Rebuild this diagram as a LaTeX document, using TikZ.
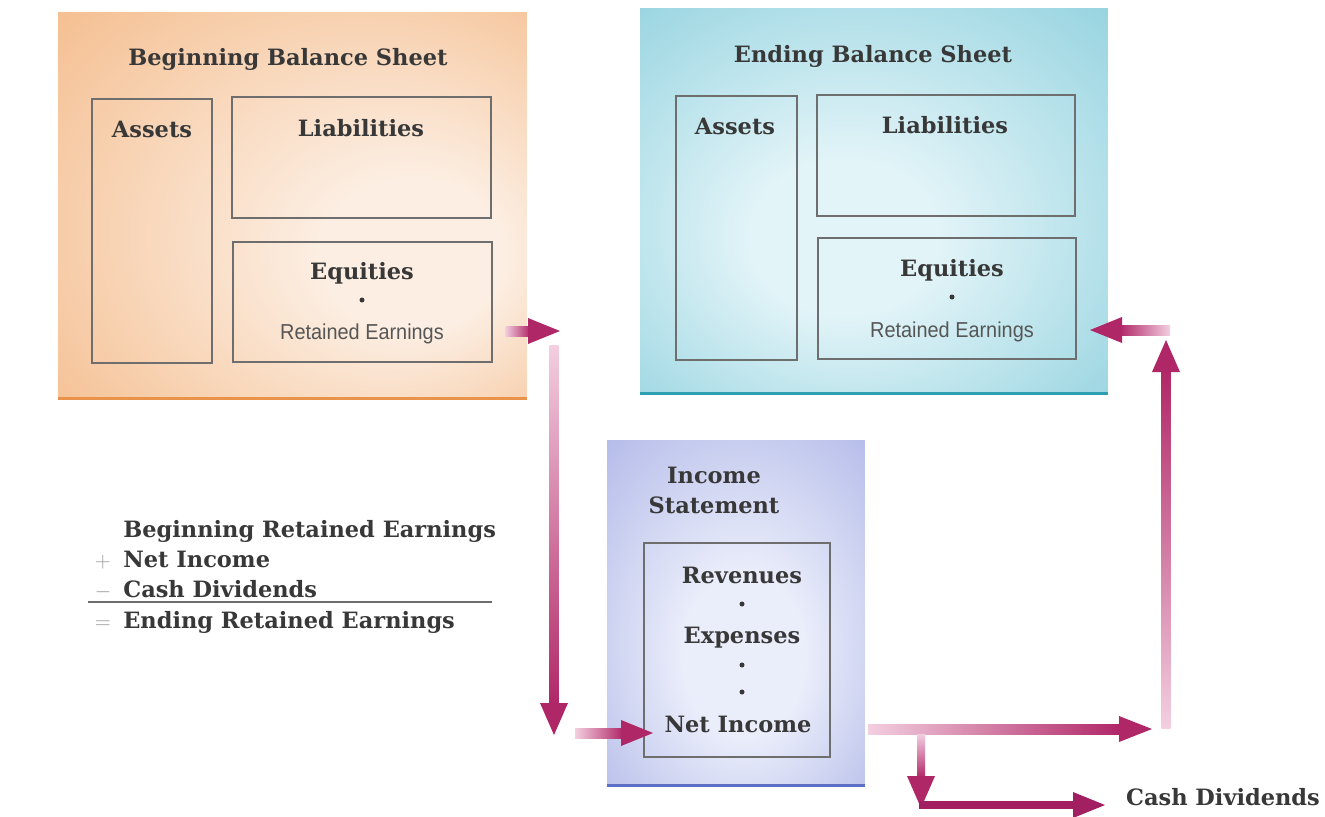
\documentclass[tikz,border=0pt]{standalone}
\usepackage{fontspec}
\setmainfont{DejaVu Serif}
\newfontfamily\condsans[FakeStretch=0.92]{Liberation Sans}
\usetikzlibrary{calc}

\definecolor{ink}{HTML}{383838}
\definecolor{sign}{HTML}{9A9A9A}
\definecolor{frame}{HTML}{6E6E6E}
\definecolor{orOut}{HTML}{F2AE74}
\definecolor{orIn}{HTML}{FCEEE2}
\definecolor{orEdge}{HTML}{E8924A}
\definecolor{cyOut}{HTML}{74C5D5}
\definecolor{cyIn}{HTML}{E2F4F8}
\definecolor{cyEdge}{HTML}{2E9FB0}
\definecolor{blOut}{HTML}{97A0E0}
\definecolor{blIn}{HTML}{EAEDFA}
\definecolor{blEdge}{HTML}{5D6FC4}
\definecolor{pinkL}{HTML}{F3CFE0}
\definecolor{mag}{HTML}{B02767}
\definecolor{magD}{HTML}{A21F62}

% soft glows for the three statement panels
\pgfdeclareradialshading{orglow}{\pgfpoint{16bp}{-8bp}}{color(0bp)=(orIn); color(10bp)=(orIn); color(50bp)=(orOut)}
\pgfdeclareradialshading{cyglow}{\pgfpoint{-4bp}{-6bp}}{color(0bp)=(cyIn); color(10bp)=(cyIn); color(50bp)=(cyOut)}
\pgfdeclareradialshading{blglow}{\pgfpoint{2bp}{-8bp}}{color(0bp)=(blIn); color(12bp)=(blIn); color(52bp)=(blOut)}

\begin{document}
\begin{tikzpicture}[x=0.02cm,y=-0.02cm,
  hd/.style={font=\fontsize{12.8}{15}\selectfont\bfseries, text=ink, inner sep=0, anchor=base},
  sub/.style={font=\condsans\fontsize{12.3}{14}\selectfont, text=ink!85, inner sep=0, anchor=base},
  cell/.style={draw=frame, line width=0.7pt, inner sep=0},
  panel/.style={shade, inner sep=0, draw=none},
  bullet/.style={circle, fill=ink, inner sep=0, minimum size=0.1cm},
  sgn/.style={font=\fontsize{12.8}{15}\selectfont, text=sign, inner sep=0, anchor=base}
]
\fill[white] (0,0) rectangle (1325,816);
\useasboundingbox (0,0) rectangle (1325,816);

% ---------- Beginning balance sheet ----------
\node[panel, shading=orglow, minimum width=9.38cm, minimum height=7.72cm] (begBS) at (292.5,205) {};
\draw[orEdge, line width=1.7pt] (begBS.south west) -- (begBS.south east);
\node[hd] (begT) at (288,65) {Beginning Balance Sheet};
\node[cell, minimum width=2.4cm, minimum height=5.28cm] (assB) at (152,231) {};
\node[cell, minimum width=5.18cm, minimum height=2.42cm] (liaB) at (361.5,157.5) {};
\node[cell, minimum width=5.18cm, minimum height=2.4cm] (eqB) at (362.5,302) {};
\node[hd] (assBT) at (152,137) {Assets};
\node[hd] (liaBT) at (361,136) {Liabilities};
\node[hd] (eqBT) at (362,279) {Equities};
\node[bullet] (eqBd) at (362,300) {};
\node[sub] (reB) at (362,339) {Retained Earnings};

% ---------- Ending balance sheet ----------
\node[panel, shading=cyglow, minimum width=9.36cm, minimum height=7.7cm] (endBS) at (874,200.5) {};
\draw[cyEdge, line width=1.7pt] (endBS.south west) -- (endBS.south east);
\node[hd] (endT) at (873,62) {Ending Balance Sheet};
\node[cell, minimum width=2.42cm, minimum height=5.28cm] (assE) at (736.5,228) {};
\node[cell, minimum width=5.16cm, minimum height=2.42cm] (liaE) at (946,155.5) {};
\node[cell, minimum width=5.16cm, minimum height=2.42cm] (eqE) at (947,298.5) {};
\node[hd] (assET) at (735,134) {Assets};
\node[hd] (liaET) at (945,133) {Liabilities};
\node[hd] (eqET) at (952,276) {Equities};
\node[bullet] (eqEd) at (952,297) {};
\node[sub] (reE) at (952,337) {Retained Earnings};

% ---------- Income statement ----------
\node[panel, shading=blglow, minimum width=5.16cm, minimum height=6.9cm] (inc) at (736,612.5) {};
\draw[blEdge, line width=1.7pt] (inc.south west) -- (inc.south east);
\node[hd] (incT1) at (714,483) {Income};
\node[hd] (incT2) at (714,513) {Statement};
\node[cell, minimum width=3.72cm, minimum height=4.28cm] (incIn) at (737,650) {};
\node[hd] (rev) at (742,583) {Revenues};
\node[bullet] (d1) at (742,604) {};
\node[hd] (exp) at (742,643) {Expenses};
\node[bullet] (d2) at (742,665) {};
\node[bullet] (d3) at (742,692) {};
\node[hd] (ni) at (738,732) {Net Income};

% ---------- Retained earnings reconciliation ----------
\node[hd, anchor=base west] (l1) at (123,537) {Beginning Retained Earnings};
\node[hd, anchor=base west] (l2) at (123,567) {Net Income};
\node[hd, anchor=base west] (l3) at (123,597) {Cash Dividends};
\node[hd, anchor=base west] (l4) at (123,628) {Ending Retained Earnings};
\node[sgn] (s2) at (103,567) {$+$};
\node[sgn] (s3) at (103,597) {$-$};
\node[sgn] (s4) at (103,628) {$=$};
\draw[frame, line width=0.6pt] (88,602) -- (492,602);

\node[hd] (cashD) at (1223,805) {Cash Dividends};

% ---------- flow arrows ----------
% beginning retained earnings out
\coordinate (t1) at (505,331); \coordinate (h1) at (560,331);
\shade[left color=pinkL, right color=mag] ($(t1)+(0,-5)$) rectangle ($(h1)+(-30,5)$);
\fill[mag] ($(h1)+(-32,-13)$) -- (h1) -- ($(h1)+(-32,13)$) -- cycle;
% down towards the income statement
\coordinate (t2) at (554,345); \coordinate (h2) at (554,735);
\shade[top color=pinkL, bottom color=mag] ($(t2)+(-4.5,0)$) rectangle ($(h2)+(4.5,-30)$);
\fill[mag] ($(h2)+(-14,-32)$) -- (h2) -- ($(h2)+(14,-32)$) -- cycle;
% into net income
\coordinate (t3) at (575,733); \coordinate (h3) at (653,733);
\shade[left color=pinkL, right color=mag] ($(t3)+(0,-5)$) rectangle ($(h3)+(-30,5)$);
\fill[mag] ($(h3)+(-32,-13)$) -- (h3) -- ($(h3)+(-32,13)$) -- cycle;
% net income out
\coordinate (t4) at (868,729); \coordinate (h4) at (1152,729);
\shade[left color=pinkL, right color=mag] ($(t4)+(0,-5)$) rectangle ($(h4)+(-32,5)$);
\fill[mag] ($(h4)+(-33,-13)$) -- (h4) -- ($(h4)+(-33,13)$) -- cycle;
% branch down to dividends
\coordinate (t5) at (921,734); \coordinate (h5) at (921,808);
\shade[top color=pinkL, bottom color=mag] ($(t5)+(-4,0)$) rectangle ($(h5)+(4,-30)$);
\fill[mag] ($(h5)+(-14,-32)$) -- (h5) -- ($(h5)+(14,-32)$) -- cycle;
% dividends paid out
\coordinate (t6) at (919,805); \coordinate (h6) at (1105,805);
\fill[magD] ($(t6)+(0,-4)$) rectangle ($(h6)+(-30,4)$);
\fill[magD] ($(h6)+(-32,-13)$) -- (h6) -- ($(h6)+(-32,13)$) -- cycle;
% up to the ending balance sheet
\coordinate (t7) at (1166,728); \coordinate (h7) at (1166,340);
\shade[top color=mag, bottom color=pinkL] ($(h7)+(-4.5,30)$) rectangle ($(t7)+(4.5,0)$);
\fill[mag] ($(h7)+(-14,32)$) -- (h7) -- ($(h7)+(14,32)$) -- cycle;
% into ending retained earnings
\coordinate (t8) at (1170,330); \coordinate (h8) at (1090,330);
\shade[left color=mag, right color=pinkL] ($(h8)+(30,-5)$) rectangle ($(t8)+(0,5)$);
\fill[mag] ($(h8)+(32,-13)$) -- (h8) -- ($(h8)+(32,13)$) -- cycle;
\end{tikzpicture}
\end{document}
